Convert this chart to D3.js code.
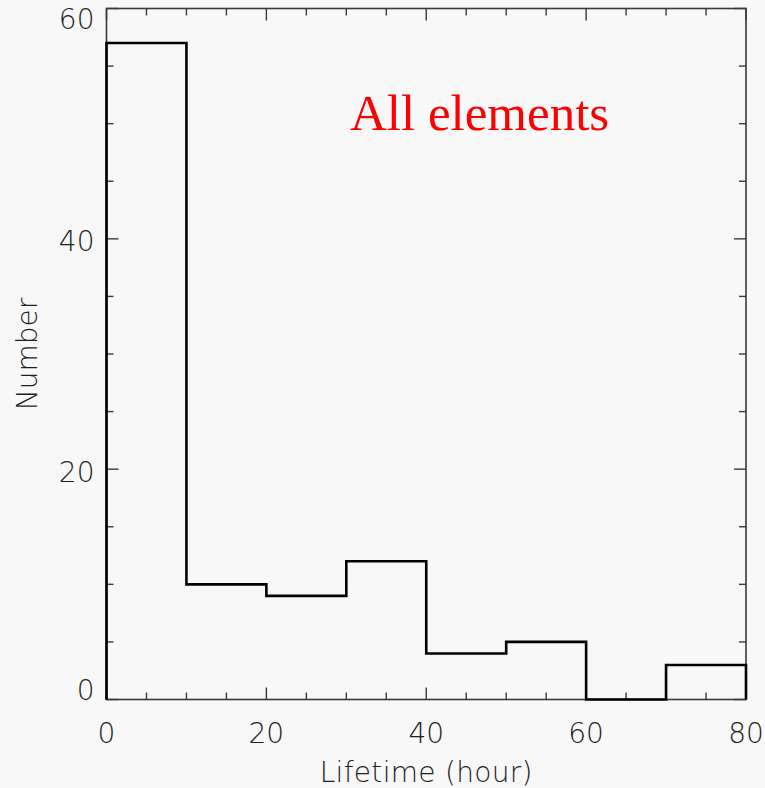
<!DOCTYPE html>
<html>
<head>
<meta charset="utf-8">
<script src="https://cdn.jsdelivr.net/npm/d3@7"></script>
<style>
  html, body { margin: 0; padding: 0; background: #f8f8f8; }
  svg { display: block; }
</style>
</head>
<body>
<script>
// Histogram of element lifetimes, 10-hour bins
const binStarts = [0, 10, 20, 30, 40, 50, 60, 70];
const binWidth = 10;
const counts = [57, 10, 9, 12, 4, 5, 0, 3];
const xTickValues = [0, 20, 40, 60, 80];
const yTickValues = [0, 20, 40, 60];
const xMinorStep = 5;
const yMinorStep = 5;

const W = 765, H = 788;
const margin = { left: 106.5, right: 19, top: 8.5, bottom: 88.5 };
const plotW = W - margin.left - margin.right;
const plotH = H - margin.top - margin.bottom;

const svg = d3.select("body").append("svg")
  .attr("width", W).attr("height", H);

svg.append("rect").attr("width", W).attr("height", H).attr("fill", "#f8f8f8");

const x = d3.scaleLinear().domain([0, 80]).range([margin.left, margin.left + plotW]);
const y = d3.scaleLinear().domain([0, 60]).range([margin.top + plotH, margin.top]);

const axisColor = "#3a3a3a";
const labelColor = "#1e1e1e";
const labelFont = "'DejaVu Sans', sans-serif";
const labelSize = 28;

// Frame
svg.append("rect")
  .attr("x", x(0)).attr("y", y(60))
  .attr("width", x(80) - x(0)).attr("height", y(0) - y(60))
  .attr("fill", "none").attr("stroke", axisColor).attr("stroke-width", 1.6);

const majorLen = 12, minorLen = 7;
const xMinor = d3.range(0, 80 + 0.001, xMinorStep);
const yMinor = d3.range(0, 60 + 0.001, yMinorStep);
const tickG = svg.append("g").attr("stroke", axisColor).attr("stroke-width", 1.4);

xMinor.forEach(v => {
  const len = xTickValues.includes(v) ? majorLen : minorLen;
  tickG.append("line").attr("x1", x(v)).attr("x2", x(v))
    .attr("y1", y(0)).attr("y2", y(0) - len);
  tickG.append("line").attr("x1", x(v)).attr("x2", x(v))
    .attr("y1", y(60)).attr("y2", y(60) + len);
});
yMinor.forEach(v => {
  const len = yTickValues.includes(v) ? majorLen : minorLen;
  tickG.append("line").attr("y1", y(v)).attr("y2", y(v))
    .attr("x1", x(0)).attr("x2", x(0) + len);
  tickG.append("line").attr("y1", y(v)).attr("y2", y(v))
    .attr("x1", x(80)).attr("x2", x(80) - len);
});

// Tick labels
svg.append("g").selectAll("text").data(xTickValues).join("text")
  .attr("x", d => x(d)).attr("y", y(0) + 43.5)
  .attr("text-anchor", "middle")
  .attr("font-family", labelFont).attr("font-size", labelSize).attr("font-weight", 300)
  .attr("fill", labelColor)
  .text(d => d);

// y labels: baseline kept inside the frame at the ends of the axis
const yBase = d => Math.min(Math.max(y(d) + 12.6, y(60) + 20.5), y(0));
svg.append("g").selectAll("text").data(yTickValues).join("text")
  .attr("x", x(0) - 12)
  .attr("y", yBase)
  .attr("text-anchor", "end")
  .attr("font-family", labelFont).attr("font-size", labelSize).attr("font-weight", 300)
  .attr("fill", labelColor)
  .text(d => d);

// Axis titles
svg.append("text")
  .attr("x", (x(0) + x(80)) / 2).attr("y", 781.5)
  .attr("text-anchor", "middle")
  .attr("font-family", labelFont).attr("font-size", labelSize).attr("font-weight", 300)
  .attr("letter-spacing", 0.3)
  .attr("fill", labelColor)
  .text("Lifetime (hour)");

svg.append("text")
  .attr("transform", `translate(37, ${(y(0) + y(60)) / 2}) rotate(-90)`)
  .attr("text-anchor", "middle")
  .attr("font-family", labelFont).attr("font-size", labelSize).attr("font-weight", 300)
  .attr("fill", labelColor)
  .text("Number");

// Histogram step outline
const steps = [[binStarts[0], 0]];
binStarts.forEach((s, i) => {
  steps.push([s, counts[i]]);
  steps.push([s + binWidth, counts[i]]);
});
steps.push([binStarts[binStarts.length - 1] + binWidth, 0]);
svg.append("path")
  .attr("d", d3.line().x(d => x(d[0])).y(d => y(d[1]))(steps))
  .attr("fill", "none").attr("stroke", "#000").attr("stroke-width", 2.6)
  .attr("stroke-linejoin", "miter");

// Annotation
svg.append("text")
  .attr("x", 350).attr("y", 129.5)
  .attr("font-family", "'Liberation Serif', serif").attr("font-size", 51)
  .attr("fill", "#ff0000")
  .text("All elements");
</script>
</body>
</html>
